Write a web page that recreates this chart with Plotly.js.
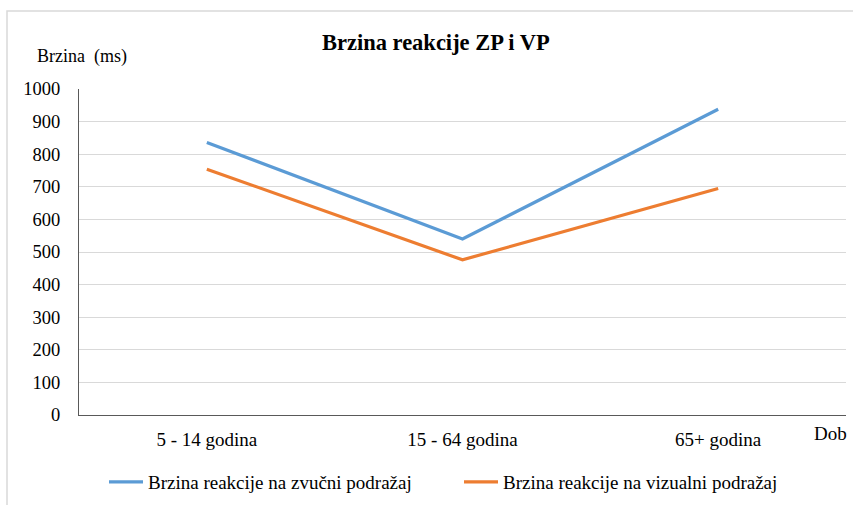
<!DOCTYPE html>
<html>
<head>
<meta charset="utf-8">
<script src="https://cdn.plot.ly/plotly-3.0.1.min.js"></script>
<style>
  html, body { margin: 0; padding: 0; background: #fff; }
  #chart { width: 853px; height: 505px; }
</style>
</head>
<body>
<div id="chart"></div>
<script>
const categories = ['5 - 14 godina', '15 - 64 godina', '65+ godina'];
const seriesNames = ['Brzina reakcije na zvučni podražaj', 'Brzina reakcije na vizualni podražaj'];
const zvucni = [836, 540, 938];
const vizualni = [754, 476, 695];
const yTicks = [0, 100, 200, 300, 400, 500, 600, 700, 800, 900, 1000];

const serif = "'Liberation Serif', 'Times New Roman', 'DejaVu Serif', serif";

const traces = [
  { x: categories, y: zvucni, name: seriesNames[0], type: 'scatter', mode: 'lines',
    line: { color: '#5B9BD5', width: 3.2 } },
  { x: categories, y: vizualni, name: seriesNames[1], type: 'scatter', mode: 'lines',
    line: { color: '#ED7D31', width: 3.2 } }
];

const layout = {
  width: 853, height: 505,
  margin: { l: 79, r: 7, t: 89, b: 90, pad: 0, autoexpand: false },
  paper_bgcolor: '#ffffff', plot_bgcolor: '#ffffff',
  font: { family: serif, size: 19, color: '#000000' },
  title: {
    text: '<b>Brzina reakcije ZP i VP</b>',
    font: { family: serif, size: 22.5, color: '#000000' },
    x: 0.511, xref: 'container', xanchor: 'center',
    y: 1 - 42 / 505, yref: 'container', yanchor: 'middle'
  },
  xaxis: {
    type: 'category',
    showline: true, linecolor: '#595959', linewidth: 1,
    showgrid: false, zeroline: false, ticks: '',
    ticklabelstandoff: 7,
    tickfont: { family: serif, size: 19, color: '#000' },
    range: [-0.5, 2.5]
  },
  yaxis: {
    range: [0, 1000], tickvals: yTicks,
    showline: true, linecolor: '#595959', linewidth: 1,
    showgrid: true, gridcolor: '#d9d9d9', gridwidth: 1,
    zeroline: false, ticks: '',
    ticklabelstandoff: 14,
    tickfont: { family: serif, size: 18.5, color: '#000' }
  },
  showlegend: true,
  legend: {
    orientation: 'h', x: (104 - 79) / 767, xanchor: 'left', y: (415 - 482) / 326, yanchor: 'middle',
    font: { family: serif, size: 19, color: '#000' },
    itemwidth: 34,
    entrywidth: 306, entrywidthmode: 'pixels', bgcolor: 'rgba(0,0,0,0)'
  },
  annotations: [
    { text: 'Brzina  (ms)', xref: 'paper', yref: 'paper', x: (35 - 79) / 767, y: (415 - 57) / 326,
      xanchor: 'left', yanchor: 'middle', showarrow: false, font: { family: serif, size: 18, color: '#000' } },
    { text: 'Dob', xref: 'paper', yref: 'paper', x: (830 - 79) / 767, y: (415 - 434) / 326,
      xanchor: 'center', yanchor: 'middle', showarrow: false, font: { family: serif, size: 19, color: '#000' } }
  ],
  shapes: [
    { type: 'rect', xref: 'paper', yref: 'paper',
      x0: (7 - 79) / 767, x1: (900 - 79) / 767, y0: (415 - 560) / 326, y1: (415 - 11) / 326,
      line: { color: '#d9d9d9', width: 1.5 }, fillcolor: 'rgba(0,0,0,0)', layer: 'below' }
  ]
};

Plotly.newPlot('chart', traces, layout, { displayModeBar: false, staticPlot: true });
</script>
</body>
</html>
